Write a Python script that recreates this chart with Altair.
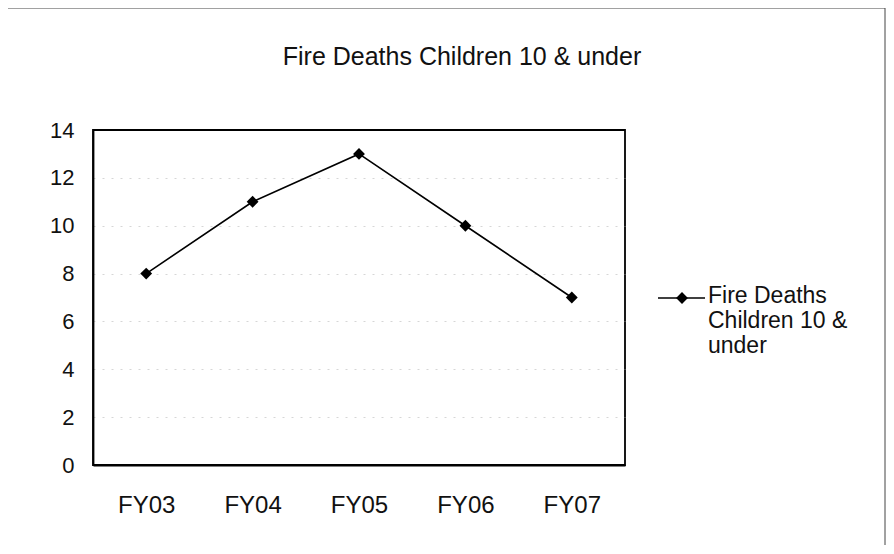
import altair as alt
import pandas as pd

categories = ["FY03", "FY04", "FY05", "FY06", "FY07"]
values = [8, 11, 13, 10, 7]
series_name = "Fire Deaths Children 10 & under"
legend_lines = ["Fire Deaths", "Children 10 &", "under"]
y_ticks = [0, 2, 4, 6, 8, 10, 12, 14]

df = pd.DataFrame({"year": categories, "deaths": values, "series": series_name})

FONT = "Liberation Sans"
W, H = 532, 335

x_enc = alt.X("year:N", sort=categories, title=None,
              scale=alt.Scale(paddingInner=0, paddingOuter=0.0, align=0.5),
              axis=alt.Axis(labelAngle=0, ticks=False, domain=True, domainColor="black",
                            domainWidth=1.8,
                            labelFontSize=24, labelFont=FONT, labelColor="#111",
                            labelPadding=28, grid=False))
y_enc = alt.Y("deaths:Q", title=None,
              scale=alt.Scale(domain=[0, 14], nice=False),
              axis=alt.Axis(values=y_ticks, ticks=False, domain=True, domainColor="black",
                            domainWidth=1.8,
                            labelFontSize=22, labelFont=FONT, labelColor="#111",
                            labelPadding=19, grid=True, gridColor="#bbbbbb",
                            gridDash=[2, 7],
                            gridOpacity={"condition": {"test": "datum.value == 14 || datum.value == 0",
                                                       "value": 0},
                                         "value": 0.6}))

line = alt.Chart(df).mark_line(color="black", strokeWidth=1.6).encode(x=x_enc, y=y_enc)
pts = alt.Chart(df).mark_point(shape="diamond", filled=True, color="black", size=140,
                               opacity=1).encode(x=x_enc, y=y_enc)

# outer frame
frame = alt.Chart(df.head(1)).mark_rect(fill=None, stroke="#444", strokeWidth=1,
                                        clip=False).encode(
    x=alt.value(-86), x2=alt.value(792), y=alt.value(-122), y2=alt.value(440))

# title
title_txt = alt.Chart(pd.DataFrame({"t": [series_name]})).mark_text(
    align="center", baseline="middle", fontSize=25, font=FONT, color="#111").encode(
    x=alt.value(369), y=alt.value(-73), text="t:N")

# legend
leg_df = pd.DataFrame({"series": [series_name]})
leg_rule = alt.Chart(leg_df).mark_rule(color="black", strokeWidth=1.6).encode(
    x=alt.value(565), x2=alt.value(612), y=alt.value(168))
leg_pt = alt.Chart(leg_df).mark_point(shape="diamond", filled=True, color="black",
                                      size=140, opacity=1).encode(
    x=alt.value(589), y=alt.value(168))
leg_txt = alt.Chart(pd.DataFrame({"t": ["\n".join(legend_lines)]})).mark_text(
    align="left", baseline="top", fontSize=23, font=FONT, color="#111",
    lineBreak="\n", lineHeight=25).encode(
    x=alt.value(615), y=alt.value(155), text="t:N")

chart = alt.layer(frame, title_txt, line, pts, leg_rule, leg_pt, leg_txt).properties(
    width=W, height=H,
    autosize=alt.AutoSizeParams(type="none"),
    padding={"left": 85, "top": 122, "right": 261, "bottom": 80},
).configure(background="white").configure_view(stroke="black", strokeWidth=1.8)

chart.save("out.html", embed_options={"renderer": "svg", "actions": False})
